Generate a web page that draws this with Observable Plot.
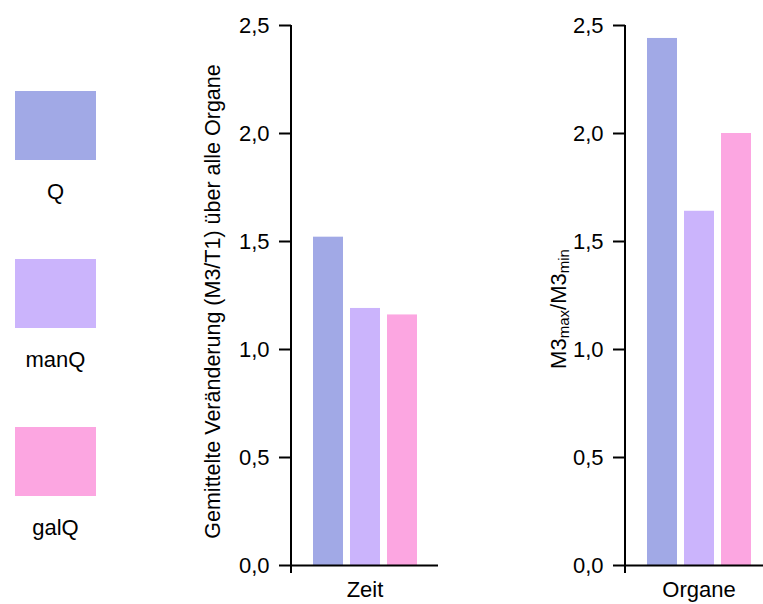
<!DOCTYPE html>
<html><head><meta charset="utf-8">
<script src="https://cdn.jsdelivr.net/npm/d3@7"></script>
<script src="https://cdn.jsdelivr.net/npm/@observablehq/plot@0.6"></script>
<style>
html,body{margin:0;padding:0;overflow:hidden;background:#fff;}
#root{position:relative;width:763px;height:604px;overflow:hidden;font-family:"Liberation Sans",Arial,sans-serif;color:#000;}
.panel{position:absolute;top:0;}
.sw{position:absolute;left:15px;width:81px;height:69px;}
.lab{position:absolute;left:15px;width:81px;text-align:center;font-size:22px;line-height:22px;}
</style></head><body><div id="root"></div>
<script>
const series = ["Q", "manQ", "galQ"];
const colors = ["#a1a9e6", "#cbb4fc", "#fca6e1"];
const yTicks = [0, 0.5, 1, 1.5, 2, 2.5];
const panel1Category = "Zeit";
const panel1Values = [1.52, 1.19, 1.16];
const panel1Label = "Gemittelte Veränderung (M3/T1) über alle Organe";
const panel2Category = "Organe";
const panel2Values = [2.44, 1.64, 2.0];
const panel2LabelParts = [["M3", false], ["max", true], ["/M3", false], ["min", true]];

const root = document.getElementById("root");

// legend
series.forEach((s, i) => {
  const sw = document.createElement("div");
  sw.className = "sw";
  sw.style.top = (91 + 168 * i) + "px";
  sw.style.background = colors[i];
  root.appendChild(sw);
  const lb = document.createElement("div");
  lb.className = "lab";
  lb.style.top = (181 + 168 * i) + "px";
  lb.textContent = s;
  root.appendChild(lb);
});

function panel(values, category, left, labelMark) {
  const data = series.map((s, i) => ({series: s, value: values[i], category}));
  const marks = [
    Plot.barY(data, {x: "series", y: "value", fill: "series"}),
    Plot.axisY({ticks: yTicks, tickSize: 12, tickPadding: 10, strokeWidth: 2, label: null,
      tickFormat: d => d3.format(".1f")(d).replace(".", ","), fontSize: 22}),
    Plot.ruleY([0], {strokeWidth: 2}),
    Plot.text([category], {frameAnchor: "bottom", lineAnchor: "top", dy: 16, fontSize: 22, text: d => d, fill: "black"})
  ];
  if (labelMark) marks.push(labelMark);
  const chart = Plot.plot({
    width: 248, height: 604, marginLeft: 101, marginRight: 0, marginTop: 25, marginBottom: 39,
    style: {fontFamily: "Liberation Sans, Arial, sans-serif", fontSize: "22px", color: "black", background: "transparent", overflow: "visible"},
    x: {domain: series, paddingInner: 0.19, paddingOuter: 0.555, axis: null},
    y: {domain: [0, 2.5]},
    color: {domain: series, range: colors},
    marks
  });
  const y = chart.scale("y");
  d3.select(chart).append("line")
    .attr("x1", 101).attr("x2", 101)
    .attr("y1", y.apply(2.5)).attr("y2", y.apply(0) + 8)
    .attr("stroke", "black").attr("stroke-width", 2);
  chart.classList.add("panel");
  chart.style.left = left + "px";
  root.appendChild(chart);
  return chart;
}

panel(panel1Values, panel1Category, 190,
  Plot.text([panel1Label], {frameAnchor: "left", textAnchor: "middle", lineAnchor: "middle", rotate: -90, dx: -78, dy: 6, fontSize: 21.5, text: d => d, fill: "black"}));

const c2 = panel(panel2Values, panel2Category, 524, null);
const t = d3.select(c2).append("text")
  .attr("transform", "translate(35,309) rotate(-90)")
  .attr("text-anchor", "middle")
  .attr("dy", "0.32em")
  .attr("fill", "black")
  .attr("font-size", 22);
let shifted = false;
panel2LabelParts.forEach(([txt, sub]) => {
  const ts = t.append("tspan").text(txt).attr("font-size", sub ? 15 : 22);
  if (sub && !shifted) { ts.attr("dy", 2.5); shifted = true; }
  else if (!sub && shifted) { ts.attr("dy", -2.5); shifted = false; }
});
</script></body></html>
